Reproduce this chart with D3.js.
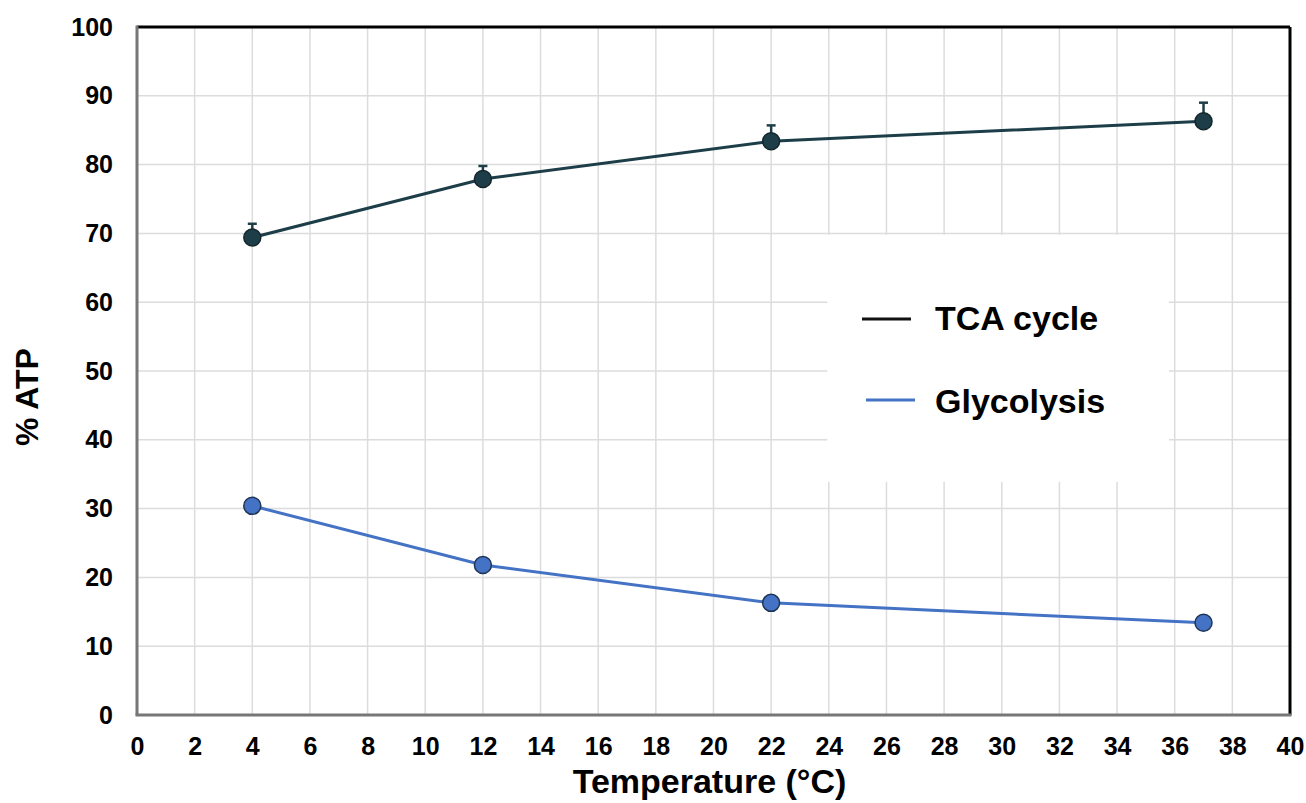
<!DOCTYPE html>
<html>
<head>
<meta charset="utf-8">
<script src="https://cdn.jsdelivr.net/npm/d3@7"></script>
<style>
  body { margin: 0; background: #fff; }
  text { font-family: "Liberation Sans", Arial, sans-serif; font-weight: bold; fill: #000; }
</style>
</head>
<body>
<div id="chart"></div>
<script>
// data
var temps = [4, 12, 22, 37]
var tcaValues = [69.4, 77.9, 83.4, 86.3]
var tcaErrors = [2.0, 1.9, 2.3, 2.7]
var glyValues = [30.4, 21.8, 16.3, 13.4]
var xTicks = d3.range(0, 41, 2)
var yTicks = d3.range(0, 101, 10)
var seriesNames = ["TCA cycle", "Glycolysis"]

var W = 1306, H = 803
var margin = { left: 137, right: 16, top: 27, bottom: 88 }
var width = W - margin.left - margin.right,
    height = H - margin.top - margin.bottom

var tcaColor = "#1d3e48",
    glyColor = "#4472c4",
    glyStroke = "#1f3556"

var svg = d3.select("#chart").append("svg")
    .attr("width", W)
    .attr("height", H)

var g = svg.append("g")
    .attr("transform", "translate(" + margin.left + "," + margin.top + ")")

var x = d3.scaleLinear().domain([0, 40]).range([0, width])
var y = d3.scaleLinear().domain([0, 100]).range([height, 0])

// grid
g.append("g").selectAll("line.vg")
    .data(xTicks.slice(1, -1))
    .enter().append("line")
    .attr("x1", d => x(d)).attr("x2", d => x(d))
    .attr("y1", 0).attr("y2", height)
    .attr("stroke", "#dcdcdc").attr("stroke-width", 1.5)

g.append("g").selectAll("line.hg")
    .data(yTicks.slice(1, -1))
    .enter().append("line")
    .attr("x1", 0).attr("x2", width)
    .attr("y1", d => y(d)).attr("y2", d => y(d))
    .attr("stroke", "#dcdcdc").attr("stroke-width", 1.5)

// legend box (white, covers the grid)
var legendBox = { x: x(23.95), y: y(69.8), w: x(35.8) - x(23.95), h: y(33.9) - y(69.8) }
g.append("rect")
    .attr("x", legendBox.x).attr("y", legendBox.y)
    .attr("width", legendBox.w).attr("height", legendBox.h)
    .attr("fill", "#fff")

// frame: top / right black, left / bottom gray
g.append("line").attr("x1", 0).attr("x2", width).attr("y1", 0).attr("y2", 0)
    .attr("stroke", "#000").attr("stroke-width", 3)
g.append("line").attr("x1", width).attr("x2", width).attr("y1", 0).attr("y2", height)
    .attr("stroke", "#000").attr("stroke-width", 3)
g.append("line").attr("x1", 0).attr("x2", 0).attr("y1", -1.5).attr("y2", height)
    .attr("stroke", "#777").attr("stroke-width", 3)
g.append("line").attr("x1", -1.5).attr("x2", width + 1.5).attr("y1", height).attr("y2", height)
    .attr("stroke", "#777").attr("stroke-width", 3)

// axes
var xAxis = d3.axisBottom(x).tickValues(xTicks).tickSize(0).tickPadding(22)
var yAxis = d3.axisLeft(y).tickValues(yTicks).tickSize(0).tickPadding(24)

var xg = g.append("g").attr("transform", "translate(0," + height + ")").call(xAxis)
var yg = g.append("g").call(yAxis)
;[xg, yg].forEach(function(a){
    a.select(".domain").remove()
    a.selectAll("text")
        .attr("font-size", "25px")
        .attr("font-family", "Liberation Sans, Arial, sans-serif")
        .attr("font-weight", "bold")
        .attr("fill", "#000")
})
xg.selectAll("text").attr("dy", "0.71em")

// axis titles
svg.append("text")
    .attr("x", margin.left + x(20) - 4)
    .attr("y", 793)
    .attr("text-anchor", "middle")
    .attr("font-size", "34px")
    .text("Temperature (°C)")

svg.append("text")
    .attr("transform", "translate(38," + 397 + ") rotate(-90)")
    .attr("text-anchor", "middle")
    .attr("font-size", "32px")
    .text("% ATP")

var tcaData = temps.map((t, i) => ({ t: t, v: tcaValues[i], e: tcaErrors[i] }))
var glyData = temps.map((t, i) => ({ t: t, v: glyValues[i] }))

var line = d3.line().x(d => x(d.t)).y(d => y(d.v))

// error bars (upper only)
g.selectAll(".err").data(tcaData).enter().append("line")
    .attr("x1", d => x(d.t)).attr("x2", d => x(d.t))
    .attr("y1", d => y(d.v)).attr("y2", d => y(d.v + d.e))
    .attr("stroke", tcaColor).attr("stroke-width", 2.5)
g.selectAll(".cap").data(tcaData).enter().append("line")
    .attr("x1", d => x(d.t) - 4.5).attr("x2", d => x(d.t) + 4.5)
    .attr("y1", d => y(d.v + d.e)).attr("y2", d => y(d.v + d.e))
    .attr("stroke", tcaColor).attr("stroke-width", 2.5)

g.append("path").datum(tcaData)
    .attr("d", line).attr("fill", "none")
    .attr("stroke", tcaColor).attr("stroke-width", 3)

g.append("path").datum(glyData)
    .attr("d", line).attr("fill", "none")
    .attr("stroke", glyColor).attr("stroke-width", 3)

g.selectAll(".tcaDot").data(tcaData).enter().append("circle")
    .attr("cx", d => x(d.t)).attr("cy", d => y(d.v)).attr("r", 8.5)
    .attr("fill", tcaColor).attr("stroke", "#15262c").attr("stroke-width", 1.5)

g.selectAll(".glyDot").data(glyData).enter().append("circle")
    .attr("cx", d => x(d.t)).attr("cy", d => y(d.v)).attr("r", 8.5)
    .attr("fill", glyColor).attr("stroke", glyStroke).attr("stroke-width", 1.5)

// legend
var legendColors = ["#111", glyColor]
var legendRows = [{ lx: 862, ly: 319, ty: 330 }, { lx: 866, ly: 400, ty: 413 }]
seriesNames.forEach(function(name, i){
    var r = legendRows[i]
    svg.append("line")
        .attr("x1", r.lx).attr("x2", r.lx + 49)
        .attr("y1", r.ly).attr("y2", r.ly)
        .attr("stroke", legendColors[i]).attr("stroke-width", 3)
    svg.append("text")
        .attr("x", 935).attr("y", r.ty)
        .attr("font-size", "34px")
        .text(name)
})
</script>
</body>
</html>
